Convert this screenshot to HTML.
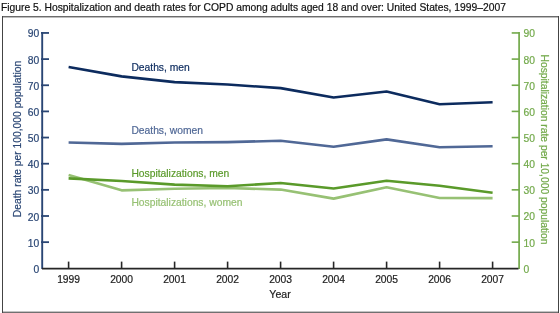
<!DOCTYPE html>
<html><head><meta charset="utf-8"><style>
html,body{margin:0;padding:0;background:#fff;width:560px;height:313px;overflow:hidden}
svg{display:block;will-change:transform}
text{font-family:"Liberation Sans",sans-serif;font-size:10.3px;fill:currentColor;stroke:currentColor;stroke-width:0.2px}
</style></head><body>
<svg width="560" height="313" viewBox="0 0 560 313">
<text x="1" y="10.5" style="color:#111">Figure 5. Hospitalization and death rates for COPD among adults aged 18 and over: United States, 1999–2007</text>
<g shape-rendering="crispEdges">
<rect x="2" y="16" width="557" height="1" fill="#6c6c6c"/>
<rect x="3" y="17" width="555" height="1" fill="#bdbdbd"/>
<rect x="3" y="311" width="555" height="1" fill="#c4c4c4"/>
<rect x="2" y="312" width="557" height="1" fill="#707070"/>
<rect x="2" y="16" width="1" height="297" fill="#444"/>
<rect x="558" y="16" width="1" height="297" fill="#444"/>
</g>
<g stroke="#2a4674" stroke-width="1.9" fill="none">
<line x1="42.2" y1="32" x2="42.2" y2="269"/><line x1="41" y1="242.15" x2="49" y2="242.15" stroke-width="1.8"/><line x1="41" y1="216.00" x2="49" y2="216.00" stroke-width="1.8"/><line x1="41" y1="189.85" x2="49" y2="189.85" stroke-width="1.8"/><line x1="41" y1="163.70" x2="49" y2="163.70" stroke-width="1.8"/><line x1="41" y1="137.55" x2="49" y2="137.55" stroke-width="1.8"/><line x1="41" y1="111.40" x2="49" y2="111.40" stroke-width="1.8"/><line x1="41" y1="85.25" x2="49" y2="85.25" stroke-width="1.8"/><line x1="41" y1="59.10" x2="49" y2="59.10" stroke-width="1.8"/><line x1="41" y1="32.95" x2="49" y2="32.95" stroke-width="1.8"/>
</g>
<g style="color:#2a4674" text-anchor="end"><text x="39.3" y="272.80">0</text><text x="39.3" y="246.65">10</text><text x="39.3" y="220.50">20</text><text x="39.3" y="194.35">30</text><text x="39.3" y="168.20">40</text><text x="39.3" y="142.05">50</text><text x="39.3" y="115.90">60</text><text x="39.3" y="89.75">70</text><text x="39.3" y="63.60">80</text><text x="39.3" y="37.45">90</text></g>
<g stroke="#72a94a" stroke-width="1.7" fill="none">
<line x1="519.1" y1="32" x2="519.1" y2="269"/><line x1="511.7" y1="242.15" x2="519" y2="242.15" stroke-width="1.6"/><line x1="511.7" y1="216.00" x2="519" y2="216.00" stroke-width="1.6"/><line x1="511.7" y1="189.85" x2="519" y2="189.85" stroke-width="1.6"/><line x1="511.7" y1="163.70" x2="519" y2="163.70" stroke-width="1.6"/><line x1="511.7" y1="137.55" x2="519" y2="137.55" stroke-width="1.6"/><line x1="511.7" y1="111.40" x2="519" y2="111.40" stroke-width="1.6"/><line x1="511.7" y1="85.25" x2="519" y2="85.25" stroke-width="1.6"/><line x1="511.7" y1="59.10" x2="519" y2="59.10" stroke-width="1.6"/><line x1="511.7" y1="32.95" x2="519" y2="32.95" stroke-width="1.6"/>
</g>
<g style="color:#72a94a"><text x="523.6" y="272.70">0</text><text x="523.6" y="246.55">10</text><text x="523.6" y="220.40">20</text><text x="523.6" y="194.25">30</text><text x="523.6" y="168.10">40</text><text x="523.6" y="141.95">50</text><text x="523.6" y="115.80">60</text><text x="523.6" y="89.65">70</text><text x="523.6" y="63.50">80</text><text x="523.6" y="37.35">90</text></g>
<g stroke="#262626" stroke-width="1.8" fill="none">
<line x1="42" y1="268.7" x2="518.5" y2="268.7"/><line x1="68.60" y1="261.6" x2="68.60" y2="268.3" stroke-width="1.6"/><line x1="121.60" y1="261.6" x2="121.60" y2="268.3" stroke-width="1.6"/><line x1="174.60" y1="261.6" x2="174.60" y2="268.3" stroke-width="1.6"/><line x1="227.60" y1="261.6" x2="227.60" y2="268.3" stroke-width="1.6"/><line x1="280.60" y1="261.6" x2="280.60" y2="268.3" stroke-width="1.6"/><line x1="333.60" y1="261.6" x2="333.60" y2="268.3" stroke-width="1.6"/><line x1="386.60" y1="261.6" x2="386.60" y2="268.3" stroke-width="1.6"/><line x1="439.60" y1="261.6" x2="439.60" y2="268.3" stroke-width="1.6"/><line x1="492.60" y1="261.6" x2="492.60" y2="268.3" stroke-width="1.6"/>
</g>
<g style="color:#222" text-anchor="middle"><text x="68.60" y="282.6">1999</text><text x="121.60" y="282.6">2000</text><text x="174.60" y="282.6">2001</text><text x="227.60" y="282.6">2002</text><text x="280.60" y="282.6">2003</text><text x="333.60" y="282.6">2004</text><text x="386.60" y="282.6">2005</text><text x="439.60" y="282.6">2006</text><text x="492.60" y="282.6">2007</text></g>
<text x="280" y="297.8" text-anchor="middle" style="color:#222;font-size:10.6px">Year</text>
<text transform="translate(20.8,139) rotate(-90)" text-anchor="middle" style="color:#2a4674">Death rate per 100,000 population</text>
<text transform="translate(541.2,149.5) rotate(90)" text-anchor="middle" style="color:#72a94a">Hospitalization rate per 10,000 population</text>
<g fill="none" stroke-width="2.6" stroke-linejoin="round">
<polyline points="68.60,174.94 121.60,190.37 174.60,188.80 227.60,188.02 280.60,189.59 333.60,198.61 386.60,187.24 439.60,197.96 492.60,198.09" stroke="#97c174"/>
<polyline points="68.60,178.34 121.60,180.96 174.60,184.62 227.60,186.19 280.60,183.05 333.60,188.54 386.60,180.70 439.60,185.67 492.60,192.73" stroke="#5a9a2a"/>
<polyline points="68.60,142.52 121.60,143.83 174.60,142.52 227.60,142.13 280.60,140.79 333.60,146.70 386.60,139.38 439.60,147.23 492.60,146.18" stroke="#506896"/>
<polyline points="68.60,66.94 121.60,76.36 174.60,82.11 227.60,84.47 280.60,88.13 333.60,97.54 386.60,91.53 439.60,104.21 492.60,102.25" stroke="#0c2b5e"/>
</g>
<text x="131.4" y="70.5" style="color:#0c2b5e">Deaths, men</text>
<text x="131.4" y="133.9" style="color:#506896">Deaths, women</text>
<text x="131.4" y="176.9" style="color:#5a9a2a">Hospitalizations, men</text>
<text x="131.4" y="205.7" style="color:#97c174">Hospitalizations, women</text>
</svg>
</body></html>
